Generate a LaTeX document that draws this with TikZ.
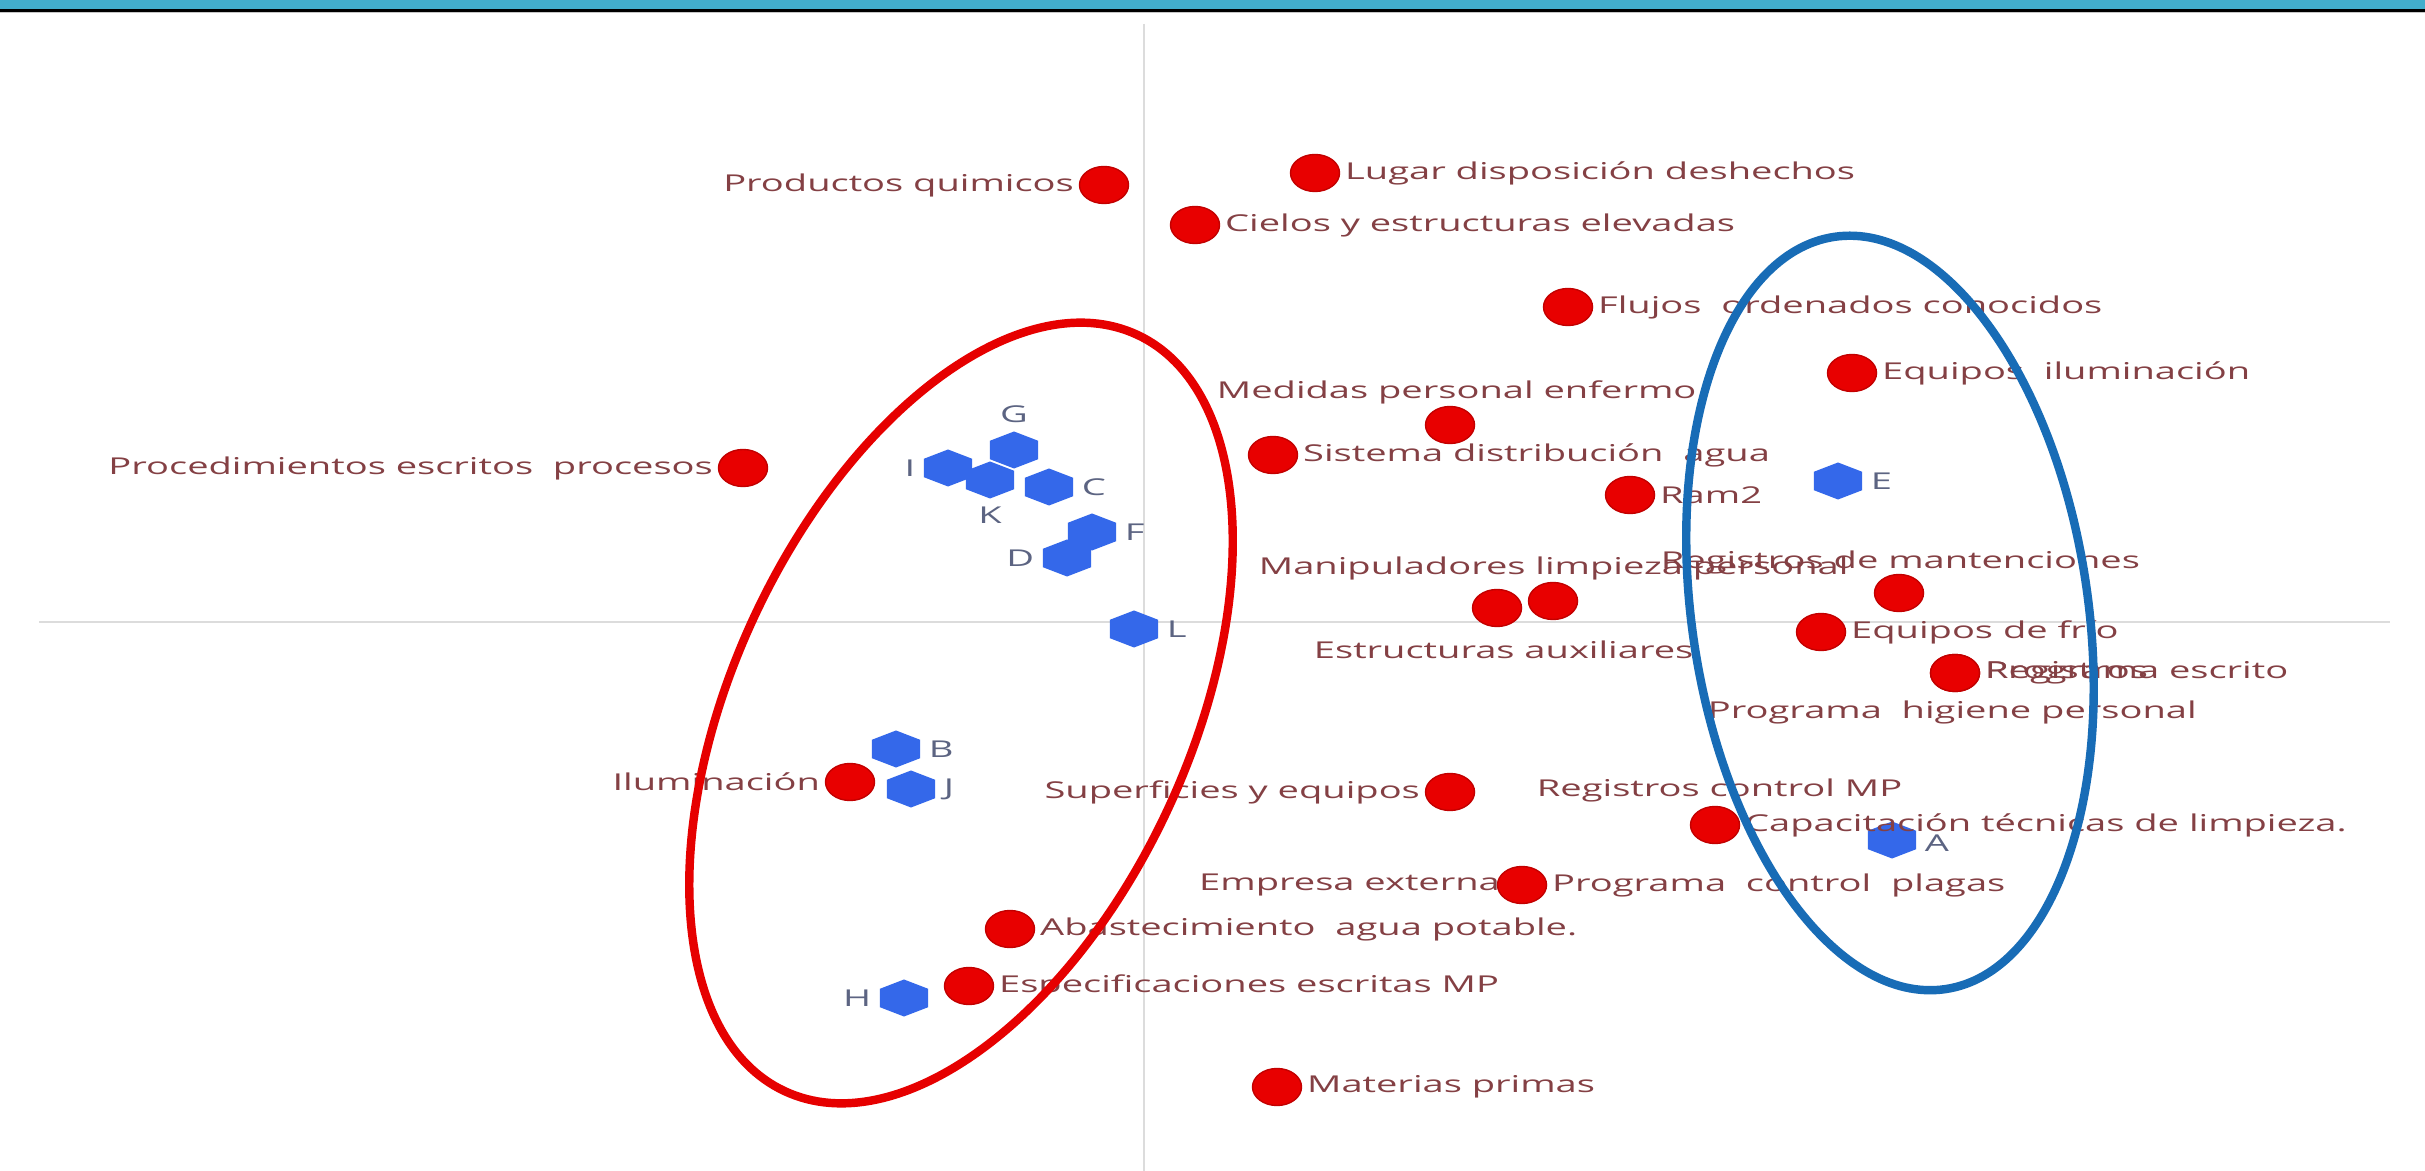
\documentclass[tikz,border=0pt]{standalone}
\usepackage{fontspec}
\setmainfont[FakeStretch=1.64]{Open Sans}
\usetikzlibrary{shapes.geometric}
\definecolor{bandteal}{RGB}{66,174,204}
\definecolor{dotred}{RGB}{232,0,0}
\definecolor{dotedge}{RGB}{195,0,0}
\definecolor{hexblue}{RGB}{52,104,234}
\definecolor{lblred}{RGB}{132,64,68}
\definecolor{lblblue}{RGB}{92,100,130}
\definecolor{ringred}{RGB}{230,0,0}
\definecolor{ringblue}{RGB}{24,108,182}
\definecolor{axisgray}{RGB}{220,220,220}
\begin{document}
\begin{tikzpicture}[x=0.01cm, y=-0.01cm,
  rdot/.style={ellipse, fill=dotred, draw=dotedge, line width=0.4pt, minimum width=0.49cm, minimum height=0.37cm, inner sep=0pt},
  hexm/.style={regular polygon, regular polygon sides=6, shape border rotate=30, fill=hexblue, minimum size=0.37cm, inner sep=0pt, xscale=1.5, transform shape},
  lbl/.style={text=lblred, inner sep=1.2pt, font=\fontsize{6.6}{8}\selectfont},
  hlbl/.style={text=lblblue, inner sep=2pt, font=\fontsize{6.6}{8}\selectfont},
  axisline/.style={draw=axisgray, line width=0.7pt},
  ring/.style={line width=2.4pt}
]
\useasboundingbox (0,0) rectangle (2425,1171);
\fill[white] (0,0) rectangle (2425,1171);
\fill[bandteal] (0,0) rectangle (2425,9);
\fill[black] (0,9) rectangle (2425,12);
\fill[gray!45] (0,12) rectangle (2425,13.5);

% axes
\coordinate (vtop) at (1144,24);
\coordinate (vbot) at (1144,1171);
\coordinate (hleft) at (39,622);
\coordinate (hright) at (2390,622);
\draw[axisline] (vtop) -- (vbot);
\draw[axisline] (hleft) -- (hright);

% red dots
\node[rdot] (prod) at (1104,185) {};
\node[rdot] (lugar) at (1315,173) {};
\node[rdot] (cielos) at (1195,225) {};
\node[rdot] (flujos) at (1568,307) {};
\node[rdot] (eqilum) at (1852,373) {};
\node[rdot] (medidas) at (1450,425) {};
\node[rdot] (sistema) at (1273,455) {};
\node[rdot] (proced) at (743,468) {};
\node[rdot] (ram) at (1630,495) {};
\node[rdot] (estruc) at (1497,608) {};
\node[rdot] (manip) at (1553,601) {};
\node[rdot] (regmant) at (1899,593) {};
\node[rdot] (frio) at (1821,632) {};
\node[rdot] (registros) at (1955,673) {};
\node[rdot] (progesc) at (1955,673) {};
\node[rdot] (ilum) at (850,782) {};
\node[rdot] (superf) at (1450,792) {};
\node[rdot] (capac) at (1715,825) {};
\node[rdot] (empresa) at (1522,885) {};
\node[rdot] (abast) at (1010,929) {};
\node[rdot] (especif) at (969,986) {};
\node[rdot] (materias) at (1277,1087) {};

% blue hexagons
\node[shift={(1014,450)}, hexm] (G) at (0,0) {};
\node[shift={(948,468)}, hexm] (I) at (0,0) {};
\node[shift={(990,480)}, hexm] (K) at (0,0) {};
\node[shift={(1049,487)}, hexm] (C) at (0,0) {};
\node[shift={(1092,532)}, hexm] (F) at (0,0) {};
\node[shift={(1067,558)}, hexm] (D) at (0,0) {};
\node[shift={(1134,629)}, hexm] (L) at (0,0) {};
\node[shift={(1838,481)}, hexm] (E) at (0,0) {};
\node[shift={(896,749)}, hexm] (B) at (0,0) {};
\node[shift={(911,789)}, hexm] (J) at (0,0) {};
\node[shift={(1892,840)}, hexm] (A) at (0,0) {};
\node[shift={(904,998)}, hexm] (H) at (0,0) {};

% hexagon labels
\node[hlbl, anchor=south] (GL) at (G.north) {G};
\node[hlbl, anchor=east] (IL) at (I.west) {I};
\node[hlbl, anchor=north] (KL) at (K.south) {K};
\node[hlbl, anchor=west] (CL) at (C.east) {C};
\node[hlbl, anchor=west] (FL) at (F.east) {F};
\node[hlbl, anchor=east] (DL) at (D.west) {D};
\node[hlbl, anchor=west] (LL) at (L.east) {L};
\node[hlbl, anchor=west] (EL) at (E.east) {E};
\node[hlbl, anchor=west] (BL) at (B.east) {B};
\node[hlbl, anchor=west] (JL) at (J.east) {J};
\node[hlbl, anchor=west] (AL) at ([yshift=-0.03cm]A.east) {A};
\node[hlbl, anchor=east] (HL) at (H.west) {H};

% dot labels
\node[lbl, anchor=east] (prodL) at (prod.west) {Productos quimicos};
\node[lbl, anchor=west] (lugarL) at (lugar.east) {Lugar disposición deshechos};
\node[lbl, anchor=west] (cielosL) at (cielos.east) {Cielos y estructuras elevadas};
\node[lbl, anchor=west] (flujosL) at (flujos.east) {Flujos\ \ ordenados conocidos};
\node[lbl, anchor=west] (eqilumL) at (eqilum.east) {Equipos\ \ iluminación};
\node[lbl, anchor=west] (medidasL) at (1212,392) {Medidas personal enfermo};
\node[lbl, anchor=west] (sistemaL) at (sistema.east) {Sistema distribución\ \ agua};
\node[lbl, anchor=east] (procedL) at (proced.west) {Procedimientos escritos\ \ procesos};
\node[lbl, anchor=west] (ramL) at (ram.east) {Ram2};
\node[lbl, anchor=west] (manipL) at (1254,568) {Manipuladores limpieza personal};
\node[lbl, anchor=west] (regmantL) at (1656,562) {Registros de mantenciones};
\node[lbl, anchor=west] (estrucL) at (1309,650) {Estructuras auxiliares};
\node[lbl, anchor=west] (frioL) at (frio.east) {Equipos de frío};
\node[lbl, anchor=west] (progescL) at (progesc.east) {Programa escrito};
\node[lbl, anchor=west] (registrosL) at (registros.east) {Registros};
\node[lbl, anchor=west] (higieneL) at (1703,712) {Programa\ \ higiene personal};
\node[lbl, anchor=east] (ilumL) at (ilum.west) {Iluminación};
\node[lbl, anchor=east] (superfL) at (superf.west) {Superficies y equipos};
\node[lbl, anchor=west] (regmpL) at (1532,790) {Registros control MP};
\node[lbl, anchor=west] (capacL) at (capac.east) {Capacitación técnicas de limpieza.};
\node[lbl, anchor=east] (empresaL) at ([xshift=0.08cm]empresa.west) {Empresa externa};
\node[lbl, anchor=west] (plagasL) at (empresa.east) {Programa\ \ control\ \ plagas};
\node[lbl, anchor=west] (abastL) at (abast.east) {Abastecimiento\ \ agua potable.};
\node[lbl, anchor=west] (especifL) at (especif.east) {Especificaciones escritas MP};
\node[lbl, anchor=west] (materiasL) at (materias.east) {Materias primas};

% group rings
\coordinate (redc) at (961,713);
\coordinate (bluec) at (1890,613);
\draw[ring, draw=ringred, rotate around={-25:(redc)}] (redc) ellipse [x radius=2.28cm, y radius=4.17cm];
\draw[ring, draw=ringblue, rotate around={8.4:(bluec)}] (bluec) ellipse [x radius=1.98cm, y radius=3.80cm];
\end{tikzpicture}
\end{document}
